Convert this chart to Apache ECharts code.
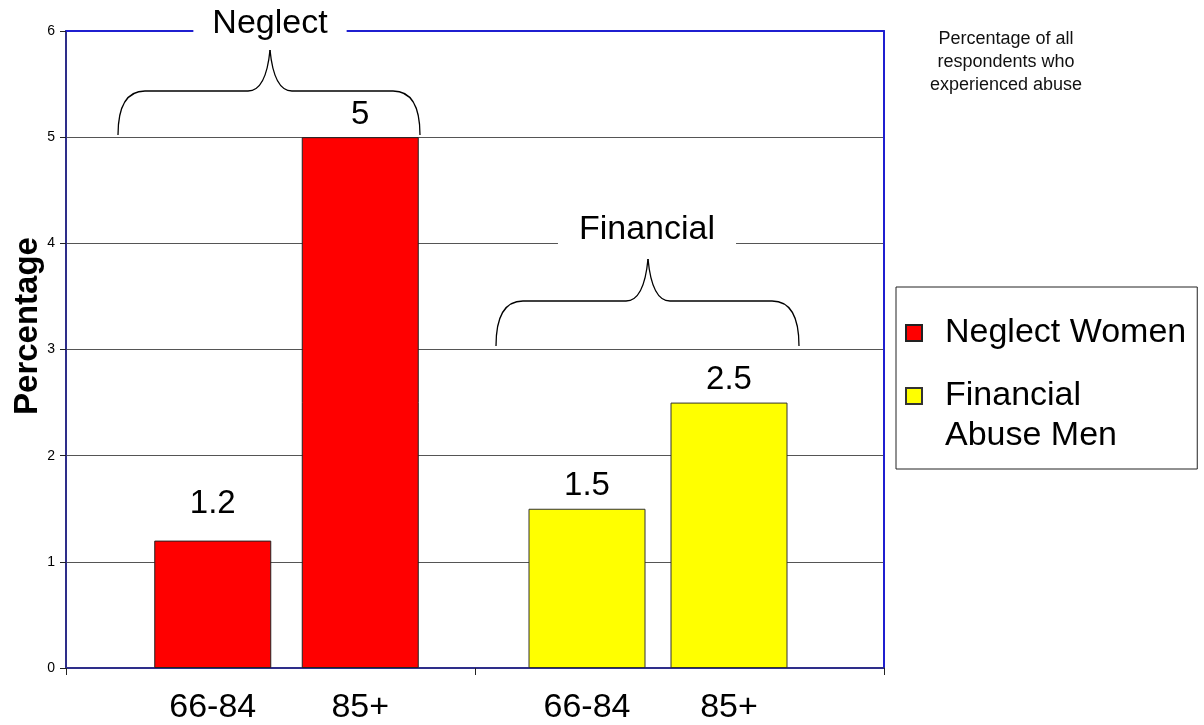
<!DOCTYPE html>
<html>
<head>
<meta charset="utf-8">
<title>Percentage of respondents who experienced abuse</title>
<script src="https://cdn.jsdelivr.net/npm/echarts@6/dist/echarts.min.js"></script>
<style>
  html, body { margin: 0; padding: 0; background: #fff; }
  #chart { width: 1204px; height: 725px; }
</style>
</head>
<body>
<div id="chart"></div>
<script>
// Abuse type groups and the two age bands shown under each group
const groups = ['Neglect', 'Financial'];
const ageBands = ['66-84', '85+'];

// Percentage of respondents, by age band
const neglectWomen = [1.2, 5];
const financialMen = [1.5, 2.5];

const seriesNames = ['Neglect Women', 'Financial Abuse Men'];
const yMin = 0, yMax = 6, yStep = 1;
const yTitle = 'Percentage';

const FONT = '"Liberation Sans", Arial, Helvetica, sans-serif';
const NAVY = '#2e2e8a';
const BLUE = '#1f1fd0';

const chart = echarts.init(document.getElementById('chart'), null, { renderer: 'canvas' });

function hiddenValueAxis(gridIndex) {
  return {
    type: 'value', gridIndex, min: yMin, max: yMax, interval: yStep,
    show: false, splitLine: { show: false }
  };
}

function ageAxis(gridIndex) {
  return {
    type: 'category', gridIndex, data: ageBands,
    axisLine: { show: false }, axisTick: { show: false },
    axisLabel: { fontSize: 34, fontFamily: FONT, color: '#000', margin: 23 }
  };
}

// Curly brace: feet at (left|right, foot), arms at height arm, tip at (mid, tip)
function brace(left, right, mid, foot, arm, tip) {
  const st = { stroke: '#000', lineWidth: 1.3, fill: 'none' };
  const r = 27, k = 22;
  const q = (x1, y1, cx, cy, x2, y2) => ({
    type: 'bezierCurve', z: 100, silent: true,
    shape: { x1, y1, cpx1: cx, cpy1: cy, x2, y2 }, style: st
  });
  const l = (x1, y1, x2, y2) => ({
    type: 'line', z: 100, silent: true, shape: { x1, y1, x2, y2 }, style: st
  });
  return [
    q(left, foot, left, arm, left + r, arm),
    l(left + r, arm, mid - k, arm),
    q(mid - k, arm, mid - 4, arm, mid, tip),
    q(mid, tip, mid + 4, arm, mid + k, arm),
    l(mid + k, arm, right - r, arm),
    q(right - r, arm, right, arm, right, foot)
  ];
}

const barLabel = {
  show: true, position: 'top', distance: 6,
  fontSize: 33, fontFamily: FONT, color: '#000'
};

const gridBase = { top: 31, bottom: 57, containLabel: false, outerBoundsMode: 'none' };

const option = {
  animation: false,
  backgroundColor: '#fff',
  grid: [
    Object.assign({ left: 66, right: 320 }, gridBase),      // frame with value axis
    Object.assign({ left: 139, width: 295 }, gridBase),     // neglect bars
    Object.assign({ left: 516, width: 284 }, gridBase)      // financial bars
  ],
  xAxis: [
    {
      type: 'category', gridIndex: 0, data: groups, boundaryGap: true,
      axisLine: { onZero: false, lineStyle: { color: NAVY, width: 2 } },
      axisTick: { show: true, length: 7, lineStyle: { color: '#222', width: 1 } },
      axisLabel: { show: false }
    },
    {
      type: 'category', gridIndex: 0, data: groups, position: 'top',
      axisLine: { onZero: false, lineStyle: { color: BLUE, width: 2 } },
      axisTick: { show: false }, axisLabel: { show: false }
    },
    ageAxis(1),
    ageAxis(2)
  ],
  yAxis: [
    {
      type: 'value', gridIndex: 0, min: yMin, max: yMax, interval: yStep,
      axisLine: { show: true, onZero: false, lineStyle: { color: NAVY, width: 2 } },
      axisTick: { show: true, length: 6, lineStyle: { color: '#222', width: 1 } },
      axisLabel: { fontSize: 14, fontFamily: FONT, color: '#000', margin: 11 },
      splitLine: { show: true, lineStyle: { color: '#555', width: 1 } }
    },
    {
      type: 'value', gridIndex: 0, min: yMin, max: yMax, interval: yStep, position: 'right',
      axisLine: { show: true, onZero: false, lineStyle: { color: BLUE, width: 2 } },
      axisTick: { show: false }, axisLabel: { show: false }, splitLine: { show: false }
    },
    hiddenValueAxis(1),
    hiddenValueAxis(2)
  ],
  legend: {
    orient: 'vertical',
    left: 896, top: 287,
    data: seriesNames,
    selectedMode: false,
    icon: 'rect',
    itemWidth: 16, itemHeight: 16, itemGap: -17,
    borderColor: '#222', borderWidth: 1,
    padding: [26, 11, 13, 9],
    formatter: name => name === seriesNames[1] ? '\nFinancial\nAbuse Men' : name,
    textStyle: {
      fontSize: 34, fontFamily: FONT, color: '#000', lineHeight: 40,
      padding: [0, 0, 0, 18]
    }
  },
  series: [
    {
      name: seriesNames[0], type: 'bar', xAxisIndex: 2, yAxisIndex: 2,
      // the short bar's value sits a little higher above it
      data: neglectWomen.map((v, i) => (i === 0 ? { value: v, label: { distance: 20 } } : v)),
      barWidth: 117,
      itemStyle: { color: '#ff0000', borderColor: '#222', borderWidth: 1 },
      label: barLabel
    },
    {
      name: seriesNames[1], type: 'bar', xAxisIndex: 3, yAxisIndex: 3,
      data: financialMen, barWidth: 117,
      itemStyle: { color: '#ffff00', borderColor: '#333', borderWidth: 1 },
      label: barLabel
    }
  ],
  graphic: [
    // value axis title
    {
      type: 'text', x: 28, y: 326, rotation: Math.PI / 2, z: 100,
      style: {
        text: yTitle, fontSize: 33, fontWeight: 'bold', fontFamily: FONT, fill: '#000',
        align: 'center', verticalAlign: 'middle'
      }
    },
    // group captions sitting on the frame / gridline
    {
      type: 'text', x: 270, y: 24, z: 100,
      style: {
        text: 'Neglect', fontSize: 34, fontFamily: FONT, fill: '#000',
        align: 'center', verticalAlign: 'middle',
        backgroundColor: '#fff', padding: [2, 19]
      }
    },
    {
      type: 'text', x: 647, y: 230, z: 100,
      style: {
        text: 'Financial', fontSize: 34, fontFamily: FONT, fill: '#000',
        align: 'center', verticalAlign: 'middle',
        backgroundColor: '#fff', padding: [2, 21]
      }
    },
    // curly braces over each group
    ...brace(118, 420, 270, 135, 91, 50),
    ...brace(496, 799, 648, 346, 301, 259),
    // note in the upper right corner
    {
      type: 'text', x: 1006, y: 28, z: 100,
      style: {
        text: 'Percentage of all\nrespondents who\nexperienced abuse',
        fontSize: 18, lineHeight: 23, fontFamily: FONT, fill: '#111',
        align: 'center', verticalAlign: 'top'
      }
    }
  ]
};

chart.setOption(option);
</script>
</body>
</html>
